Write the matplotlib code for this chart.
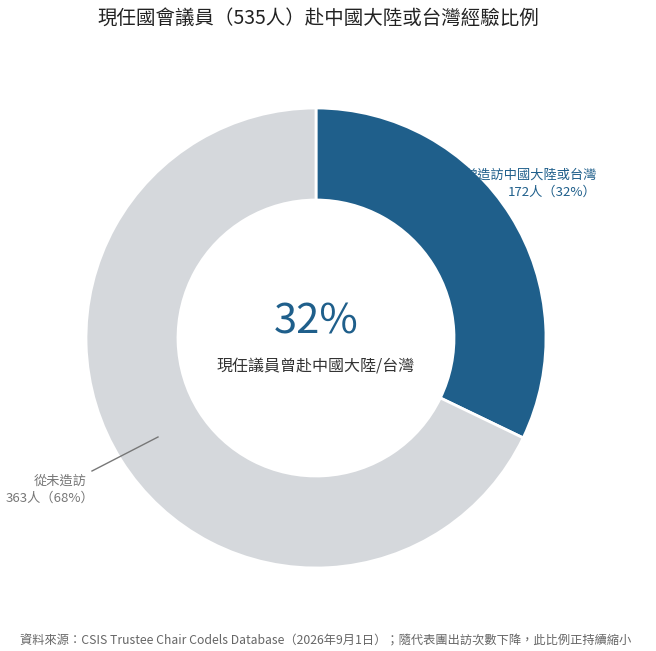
import matplotlib
matplotlib.use("Agg")
import matplotlib.pyplot as plt

plt.rcParams['font.family'] = ['Noto Sans CJK TC', 'DejaVu Sans']

categories = ["曾造訪中國大陸或台灣", "從未造訪"]
counts = [172, 363]
percents = [32, 68]
colors = ["#1f5f8b", "#d5d8dc"]

W, H = 656, 651
fig = plt.figure(figsize=(W/100, H/100), dpi=100)
ax = fig.add_axes([0, 0, 1, 1])

cx, cy, R = 316, H - 338, 230
ax.pie(counts, colors=colors, startangle=90, counterclock=False,
       radius=R, center=(cx, cy), frame=True,
       wedgeprops=dict(width=R * 0.4, edgecolor='white', linewidth=2))
ax.set_xlim(0, W); ax.set_ylim(0, H); ax.set_aspect('equal'); ax.axis('off')

ax.text(318, H - 18, "現任國會議員（535人）赴中國大陸或台灣經驗比例",
        ha='center', va='center', fontsize=14, fontweight='medium', color='#222222')
ax.text(cx, H - 322, f"{percents[0]}%", ha='center', va='center', fontsize=30, color='#1f5f8b')
ax.text(cx, H - 366, "現任議員曾赴中國大陸/台灣", ha='center', va='center', fontsize=11.5, color='#333333')

ax.text(597, H - 175, categories[0], ha='right', va='center', fontsize=9.5, color='#1f5f8b', zorder=5)
ax.text(597, H - 192, f"{counts[0]}人（{percents[0]}%）", ha='right', va='center', fontsize=9.5, color='#1f5f8b', zorder=5)

ax.plot([92, 158], [H - 471, H - 437], color='#777777', lw=1)
ax.text(60, H - 481, categories[1], ha='center', va='center', fontsize=9.5, color='#777777')
ax.text(50, H - 498, f"{counts[1]}人（{percents[1]}%）", ha='center', va='center', fontsize=9.5, color='#777777')

ax.text(326, H - 641, "資料來源：CSIS Trustee Chair Codels Database（2026年9月1日）；隨代表團出訪次數下降，此比例正持續縮小",
        ha='center', va='center', fontsize=8.8, color='#666666')

fig.savefig("out.png", dpi=100)
